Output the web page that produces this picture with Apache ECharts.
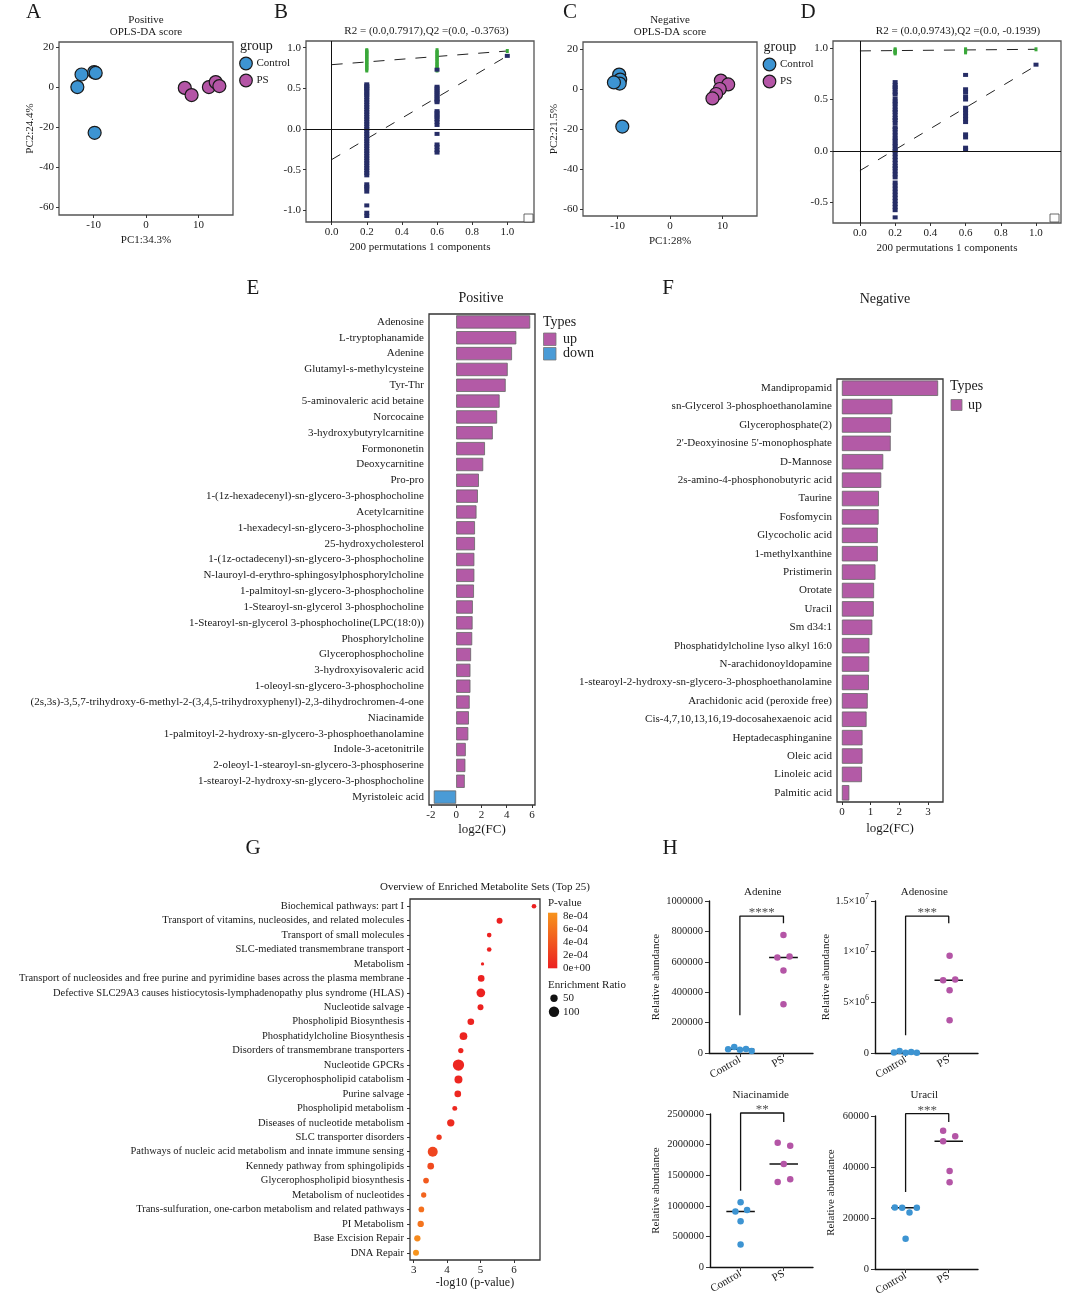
<!DOCTYPE html>
<html><head><meta charset="utf-8">
<script src="https://cdn.jsdelivr.net/npm/echarts@6.0.0/dist/echarts.min.js"></script>
<style>html,body{margin:0;padding:0;background:#fff}#c{width:1065px;height:1298px}</style>
</head><body><div id="c"></div>
<script>
// ---------------- DATA ----------------
// A: Positive OPLS-DA score
const A_control = [[-12.3,6.5],[-9.9,7.7],[-9.6,7.3],[-13.1,0.2],[-9.8,-22.7]];
const A_ps = [[7.4,-0.2],[8.7,-3.8],[12.0,0.2],[13.3,2.7],[14.0,0.7]];
// C: Negative OPLS-DA score
const C_control = [[-9.7,7.2],[-9.5,4.7],[-9.6,2.7],[-10.7,3.3],[-9.1,-18.8]];
const C_ps = [[9.7,4.2],[11.1,2.3],[9.5,0.0],[8.8,-2.5],[8.1,-4.7]];
// B / D permutation tests
const perm_x = [0.2, 0.6, 1.0];
const B_R2 = [
  [0.72,0.735,0.75,0.76,0.78,0.79,0.805,0.82,0.83,0.845,0.86,0.87,0.885,0.90,0.91,0.925,0.94,0.95,0.96,0.97],
  [0.72,0.74,0.755,0.77,0.79,0.8,0.82,0.84,0.855,0.87,0.89,0.9,0.92,0.94,0.95,0.97],
  [0.96]];
const B_Q2 = [
  [0.55,0.53,0.51,0.49,0.47,0.44,0.42,0.39,0.36,0.33,0.30,0.27,0.24,0.21,0.18,0.15,0.12,0.09,0.06,0.03,0.0,-0.03,-0.06,-0.09,-0.12,-0.15,-0.18,-0.21,-0.24,-0.27,-0.30,-0.33,-0.36,-0.39,-0.42,-0.45,-0.48,-0.51,-0.54,-0.57,-0.68,-0.71,-0.73,-0.77,-0.94,-1.03,-1.07],
  [0.73,0.52,0.5,0.47,0.45,0.42,0.4,0.37,0.35,0.33,0.22,0.2,0.17,0.15,0.12,0.09,0.05,-0.06,-0.19,-0.22,-0.26,-0.29],
  [0.90]];
const B_R2_line = [0.7917, 0.96];
const B_Q2_line = [-0.3763, 0.90];
const D_R2 = [[0.95,0.96,0.965,0.97,0.98,0.99],[0.96,0.97,0.98,0.99],[0.99]];
const D_Q2 = [
  [0.67,0.64,0.62,0.6,0.57,0.55,0.51,0.48,0.46,0.43,0.4,0.38,0.35,0.32,0.3,0.27,0.23,0.21,0.18,0.15,0.12,0.1,0.07,0.05,0.02,0,-0.03,-0.06,-0.09,-0.12,-0.15,-0.17,-0.2,-0.23,-0.26,-0.31,-0.34,-0.37,-0.4,-0.43,-0.46,-0.49,-0.52,-0.55,-0.58,-0.65],
  [0.74,0.6,0.57,0.53,0.5,0.42,0.4,0.37,0.34,0.31,0.28,0.16,0.13,0.03,0.01],
  [0.84]];
const D_R2_line = [0.9743, 0.99];
const D_Q2_line = [-0.1939, 0.83];
// E: Positive log2FC
const E_names = ['Adenosine','L-tryptophanamide','Adenine','Glutamyl-s-methylcysteine','Tyr-Thr','5-aminovaleric acid betaine','Norcocaine','3-hydroxybutyrylcarnitine','Formononetin','Deoxycarnitine','Pro-pro','1-(1z-hexadecenyl)-sn-glycero-3-phosphocholine','Acetylcarnitine','1-hexadecyl-sn-glycero-3-phosphocholine','25-hydroxycholesterol','1-(1z-octadecenyl)-sn-glycero-3-phosphocholine','N-lauroyl-d-erythro-sphingosylphosphorylcholine','1-palmitoyl-sn-glycero-3-phosphocholine','1-Stearoyl-sn-glycerol 3-phosphocholine','1-Stearoyl-sn-glycerol 3-phosphocholine(LPC(18:0))','Phosphorylcholine','Glycerophosphocholine','3-hydroxyisovaleric acid','1-oleoyl-sn-glycero-3-phosphocholine','(2s,3s)-3,5,7-trihydroxy-6-methyl-2-(3,4,5-trihydroxyphenyl)-2,3-dihydrochromen-4-one','Niacinamide','1-palmitoyl-2-hydroxy-sn-glycero-3-phosphoethanolamine','Indole-3-acetonitrile','2-oleoyl-1-stearoyl-sn-glycero-3-phosphoserine','1-stearoyl-2-hydroxy-sn-glycero-3-phosphocholine','Myristoleic acid'];
const E_values = [5.86,4.76,4.42,4.08,3.92,3.44,3.24,2.90,2.28,2.14,1.80,1.72,1.61,1.49,1.49,1.44,1.44,1.41,1.32,1.30,1.27,1.18,1.13,1.13,1.07,1.01,0.96,0.76,0.73,0.68,-1.77];
// F: Negative log2FC
const F_names = ['Mandipropamid','sn-Glycerol 3-phosphoethanolamine','Glycerophosphate(2)',"2'-Deoxyinosine 5'-monophosphate",'D-Mannose','2s-amino-4-phosphonobutyric acid','Taurine','Fosfomycin','Glycocholic acid','1-methylxanthine','Pristimerin','Orotate','Uracil','Sm d34:1','Phosphatidylcholine lyso alkyl 16:0','N-arachidonoyldopamine','1-stearoyl-2-hydroxy-sn-glycero-3-phosphoethanolamine','Arachidonic acid (peroxide free)','Cis-4,7,10,13,16,19-docosahexaenoic acid','Heptadecasphinganine','Oleic acid','Linoleic acid','Palmitic acid'];
const F_values = [3.35,1.76,1.71,1.70,1.44,1.37,1.29,1.28,1.25,1.25,1.17,1.12,1.11,1.06,0.96,0.95,0.94,0.90,0.86,0.72,0.72,0.70,0.26];
// G: enrichment
const G_names = ['Biochemical pathways: part I','Transport of vitamins, nucleosides, and related molecules','Transport of small molecules','SLC-mediated transmembrane transport','Metabolism','Transport of nucleosides and free purine and pyrimidine bases across the plasma membrane','Defective SLC29A3 causes histiocytosis-lymphadenopathy plus syndrome (HLAS)','Nucleotide salvage','Phospholipid Biosynthesis','Phosphatidylcholine Biosynthesis','Disorders of transmembrane transporters','Nucleotide GPCRs','Glycerophospholipid catabolism','Purine salvage','Phospholipid metabolism','Diseases of nucleotide metabolism','SLC transporter disorders','Pathways of nucleic acid metabolism and innate immune sensing','Kennedy pathway from sphingolipids','Glycerophospholipid biosynthesis','Metabolism of nucleotides','Trans-sulfuration, one-carbon metabolism and related pathways','PI Metabolism','Base Excision Repair','DNA Repair'];
const G_logp = [6.60,5.57,5.26,5.26,5.06,5.02,5.01,5.00,4.71,4.49,4.41,4.34,4.34,4.32,4.23,4.11,3.76,3.57,3.51,3.37,3.30,3.23,3.21,3.11,3.07];
const G_ratio = [20,33,20,20,10,41,70,33,41,55,26,118,59,41,23,50,26,92,41,30,26,30,37,37,33];
// H: relative abundance (values + horizontal jitter)
const H_adenine_ctrl = [24000,40000,22000,26000,13000], H_adenine_ctrl_j = [-0.27,-0.13,0,0.14,0.27];
const H_adenine_ps = [776000,629000,635000,543000,321000], H_adenine_ps_j = [0,-0.14,0.14,0,0];
const H_adenosine_ctrl = [60000,200000,30000,110000,20000], H_adenosine_ctrl_j = [-0.27,-0.14,0,0.13,0.26];
const H_adenosine_ps = [9590000,7190000,7250000,6200000,3230000], H_adenosine_ps_j = [0.02,-0.13,0.15,0.02,0.02];
const H_niac_ctrl = [1056000,908000,930000,749000,366000], H_niac_ctrl_j = [0,-0.12,0.15,0,0];
const H_niac_ps = [2030000,1980000,1685000,1390000,1433000], H_niac_ps_j = [-0.14,0.15,0,-0.14,0.15];
const H_uracil_ctrl = [24100,24000,24050,22200,11900], H_uracil_ctrl_j = [-0.25,-0.08,0.26,0.09,0];
const H_uracil_ps = [54250,52030,50070,38430,33990], H_uracil_ps_j = [-0.13,0.15,-0.13,0.02,0.02];
const H_brackets = {adenine:[248000,901000,853000], adenosine:[1750000,13500000,12800000], niac:[1247000,2516000,2370000], uracil:[30200,60900,57650]};
const H_stars = {adenine:'****', adenosine:'***', niac:'**', uracil:'***'};
const H_groups = ['Control','PS'];

// ---------------- STYLE ----------------
const FONT = '"Liberation Serif", "Times New Roman", serif';
const TXT = '#1a1a1a';
const BLUE = '#3d94d2', PURPLE = '#b455a6';
const BAR_UP = '#b35aa6', BAR_DOWN = '#4a9bd6';
const NAVY = '#262d66', GREEN = '#3aa83a';
const RED = '#ec2020', ORANGE = '#f7941d';

const grids = [
  {left:59, top:42, width:174, height:173},      //0 A
  {left:306, top:41, width:228, height:181},     //1 B
  {left:583, top:42, width:174, height:174},     //2 C
  {left:833, top:41, width:228, height:182},     //3 D
  {left:429, top:314, width:106, height:491},    //4 E
  {left:837, top:379, width:106, height:423},    //5 F
  {left:410, top:899, width:130, height:361},    //6 G
  {left:709, top:901, width:104, height:152},    //7 H1
  {left:875, top:901, width:103, height:152},    //8 H2
  {left:710, top:1114, width:103, height:153},   //9 H3
  {left:875, top:1116, width:103, height:153}    //10 H4
].map((g,i)=>Object.assign({show: i<=6, borderColor: i<=3 ? '#555' : '#333', borderWidth:1.3, backgroundColor:'transparent', containLabel:false, outerBoundsMode:'none'}, g));

function vAxis(gi, min, max, ticks, o) {
  o = o || {};
  return {
    gridIndex: gi, type:'value', min, max,
    axisLine: Object.assign({show:false, onZero:false}, o.axisLine||{}),
    axisTick: {show:true, customValues:ticks, length:o.tickLen||3, lineStyle:{color:'#333', width:1}},
    axisLabel: Object.assign({customValues:ticks, fontSize:11, color:TXT, margin:5, fontFamily:FONT}, o.label||{}),
    splitLine: {show:false},
    name: o.name || '', nameLocation:'middle', nameGap: o.nameGap || 20,
    nameTextStyle: {fontSize: o.nameSize || 11, color:TXT, fontFamily:FONT}
  };
}
function cAxis(gi, names, o) {
  o = o || {};
  return {
    gridIndex: gi, type:'category', data:names, inverse:true,
    axisLine:{show:false, onZero:false},
    axisTick:{show: !!o.ticks, length:3, alignWithLabel:true, lineStyle:{color:'#333'}},
    axisLabel:{interval:0, fontSize:o.fontSize||11, color:TXT, margin:o.margin||5, fontFamily:FONT},
    splitLine:{show:false}
  };
}
const f1 = v => v.toFixed(1);
const xAxes = [], yAxes = [];
// A
xAxes.push(vAxis(0,-16.6,16.6,[-10,0,10],{name:'PC1:34.3%', nameGap:20}));
yAxes.push(vAxis(0,-63.9,22.8,[-60,-40,-20,0,20],{name:'PC2:24.4%', nameGap:18}));
// B
xAxes.push(vAxis(1,-0.146,1.152,[0,0.2,0.4,0.6,0.8,1.0],{name:'200 permutations 1 components', nameGap:20, label:{formatter:f1}}));
yAxes.push(vAxis(1,-1.144,1.083,[-1,-0.5,0,0.5,1],{label:{formatter:f1}}));
// C
xAxes.push(vAxis(2,-16.6,16.6,[-10,0,10],{name:'PC1:28%', nameGap:20}));
yAxes.push(vAxis(2,-63.5,23.5,[-60,-40,-20,0,20],{name:'PC2:21.5%', nameGap:18}));
// D
xAxes.push(vAxis(3,-0.153,1.142,[0,0.2,0.4,0.6,0.8,1.0],{name:'200 permutations 1 components', nameGap:20, label:{formatter:f1}}));
yAxes.push(vAxis(3,-0.705,1.071,[-0.5,0,0.5,1],{label:{formatter:f1}}));
// E
xAxes.push(vAxis(4,-2.15,6.24,[-2,0,2,4,6],{name:'log2(FC)', nameGap:18, nameSize:13}));
yAxes.push(cAxis(4,E_names));
// F
xAxes.push(vAxis(5,-0.17,3.52,[0,1,2,3],{name:'log2(FC)', nameGap:20, nameSize:13}));
yAxes.push(cAxis(5,F_names));
// G
xAxes.push(vAxis(6,2.89,6.78,[3,4,5,6],{name:'-log10 (p-value)', nameGap:17, nameSize:12}));
yAxes.push(cAxis(6,G_names,{ticks:true, fontSize:10.5, margin:6}));
// H
const hAxisLine = {show:true, onZero:false, lineStyle:{color:'#111', width:1.4}};
const hY = [
  {gi:7, max:1000000, ticks:[0,200000,400000,600000,800000,1000000], gap:47},
  {gi:8, max:15000000, ticks:[0,5000000,10000000,15000000], gap:38, sci:true},
  {gi:9, max:2500000, ticks:[0,500000,1000000,1500000,2000000,2500000], gap:48},
  {gi:10, max:60000, ticks:[0,20000,40000,60000], gap:38}
];
hY.forEach(h => {
  xAxes.push(vAxis(h.gi,0.291,2.678,[1,2],{axisLine:hAxisLine, tickLen:4,
    label:{formatter:v=>H_groups[Math.round(v)-1], rotate:30, margin:6, fontSize:11}}));
  const lab = {margin:6, fontSize:10.5, formatter: v => String(Math.round(v))};
  if (h.sci) {
    lab.formatter = v => { if (v===0) return '0'; const e = Math.floor(Math.log10(v)+1e-9); const m = +(v/Math.pow(10,e)).toFixed(2); return m + '×10{s|' + e + '}'; };
    lab.rich = {s:{fontSize:8, fontFamily:FONT, color:TXT, verticalAlign:'top', padding:[0,0,8,0]}};
  }
  yAxes.push(vAxis(h.gi,0,h.max,h.ticks,{axisLine:hAxisLine, tickLen:4, label:lab, name:'Relative abundance', nameGap:h.gap}));
});

// ---------------- SERIES ----------------
const series = [];
function scoreSeries(gi, ctrl, ps) {
  [[ctrl,BLUE,'Control'],[ps,PURPLE,'PS']].forEach(([d,c,n]) => series.push({
    type:'scatter', name:n, xAxisIndex:gi, yAxisIndex:gi, data:d, symbolSize:13,
    itemStyle:{color:c, borderColor:'#1a1a1a', borderWidth:1.2, opacity:1}, z:3
  }));
}
scoreSeries(0, A_control, A_ps);
scoreSeries(2, C_control, C_ps);

function permSeries(gi, r2, q2, r2line, q2line) {
  series.push({type:'line', xAxisIndex:gi, yAxisIndex:gi, data:[[0,r2line[0]],[1,r2line[1]]], symbol:'none',
    lineStyle:{color:'#222', width:1, type:[11,10]}, z:2,
    markLine:{silent:true, symbol:'none', label:{show:false}, lineStyle:{color:'#111', width:1, type:'solid'}, data:[{xAxis:0},{yAxis:0}]}});
  series.push({type:'line', xAxisIndex:gi, yAxisIndex:gi, data:[[0,q2line[0]],[1,q2line[1]]], symbol:'none',
    lineStyle:{color:'#222', width:1, type:[10,11]}, z:2});
  const g = [], n = [];
  perm_x.forEach((x,i) => { r2[i].forEach(v => g.push([x,v])); q2[i].forEach(v => n.push([x,v])); });
  series.push({type:'scatter', xAxisIndex:gi, yAxisIndex:gi, data:g, symbol:'rect', symbolSize:[3,4], itemStyle:{color:GREEN, opacity:1}, z:3});
  series.push({type:'scatter', xAxisIndex:gi, yAxisIndex:gi, data:n, symbol:'rect', symbolSize:[5,4], itemStyle:{color:NAVY, opacity:1}, z:3});
}
permSeries(1, B_R2, B_Q2, B_R2_line, B_Q2_line);
permSeries(3, D_R2, D_Q2, D_R2_line, D_Q2_line);

function barSeries(gi, vals) {
  series.push({type:'bar', xAxisIndex:gi, yAxisIndex:gi, barCategoryGap:'16%',
    data: vals.map(v => ({value:v, itemStyle:{color: v>=0 ? BAR_UP : BAR_DOWN}})),
    itemStyle:{borderColor:'#666', borderWidth:0.8}, z:2});
}
barSeries(4, E_values);
barSeries(5, F_values);

const G_p = G_logp.map(v => Math.pow(10,-v));
const G_pmax = Math.max.apply(null, G_p);
const gIndex = series.length;
series.push({type:'scatter', xAxisIndex:6, yAxisIndex:6,
  data: G_logp.map((v,i) => [v, G_names[i], G_ratio[i], G_p[i]]),
  symbolSize: d => 1.04*Math.sqrt(d[2]), itemStyle:{opacity:1}, z:3});

function median(a){ const s=a.slice().sort((x,y)=>x-y); return s[Math.floor(s.length/2)]; }
function hSeries(gi, c, cj, p, pj, br, stars) {
  [[c,cj,1,BLUE],[p,pj,2,PURPLE]].forEach(([vals,jit,g,col]) => {
    const m = median(vals);
    series.push({type:'line', xAxisIndex:gi, yAxisIndex:gi, data:[[g-0.33,m],[g+0.33,m]], symbol:'none', clip:false, lineStyle:{color:'#111', width:1.5}, z:2});
    series.push({type:'scatter', xAxisIndex:gi, yAxisIndex:gi, data:vals.map((v,i)=>[g+jit[i], v]), symbolSize:6.5, clip:false, itemStyle:{color:col, opacity:1}, z:3});
  });
  series.push({type:'line', xAxisIndex:gi, yAxisIndex:gi, data:[[1,br[0]],[1,br[1]],[2,br[1]],[2,br[2]]], symbol:'none', clip:false, lineStyle:{color:'#111', width:1.3}, z:2});
  series.push({type:'scatter', xAxisIndex:gi, yAxisIndex:gi, data:[[1.5,br[1]]], symbolSize:0, clip:false,
    label:{show:true, position:'top', distance:-3, formatter:stars, fontSize:13, color:TXT, fontFamily:FONT}, z:4});
}
hSeries(7, H_adenine_ctrl, H_adenine_ctrl_j, H_adenine_ps, H_adenine_ps_j, H_brackets.adenine, H_stars.adenine);
hSeries(8, H_adenosine_ctrl, H_adenosine_ctrl_j, H_adenosine_ps, H_adenosine_ps_j, H_brackets.adenosine, H_stars.adenosine);
hSeries(9, H_niac_ctrl, H_niac_ctrl_j, H_niac_ps, H_niac_ps_j, H_brackets.niac, H_stars.niac);
hSeries(10, H_uracil_ctrl, H_uracil_ctrl_j, H_uracil_ps, H_uracil_ps_j, H_brackets.uracil, H_stars.uracil);

// ---------------- GRAPHIC (titles, legends) ----------------
function T(x, y, text, size, align, extra) {
  return Object.assign({type:'text', x, y, silent:true, style:{text, font: size+'px '+FONT, fill:TXT, textAlign: align||'center', textVerticalAlign:'middle'}}, extra||{});
}
const gr = [];
[['A',33.5,12],['B',281,12],['C',570,12],['D',808,12],['E',253,288],['F',668,288],['G',253,848],['H',670,848]]
  .forEach(([t,x,y]) => gr.push(T(x,y,t,21)));
gr.push(T(146,20.5,'Positive',11), T(146,32.5,'OPLS-DA score',11));
gr.push(T(670,20.5,'Negative',11), T(670,32.5,'OPLS-DA score',11));
gr.push(T(426.5,31,'R2 = (0.0,0.7917),Q2 =(0.0, -0.3763)',11));
gr.push(T(958,31,'R2 = (0.0,0.9743),Q2 =(0.0, -0.1939)',11));
function groupLegend(x, y) {
  gr.push(T(x-6, y, 'group', 14, 'left'));
  [[BLUE,'Control',17],[PURPLE,'PS',34]].forEach(([c,t,dy]) => {
    gr.push({type:'circle', shape:{cx:x, cy:y+dy, r:6.3}, style:{fill:c, stroke:'#1a1a1a', lineWidth:1.2}, silent:true});
    gr.push(T(x+10.5, y+dy, t, 11, 'left'));
  });
}
groupLegend(246, 46.5);
groupLegend(769.5, 47.5);
// permutation legend boxes
[[524,214],[1050,214]].forEach(([x,y]) => gr.push({type:'rect', shape:{x, y, width:9, height:8}, style:{fill:'#fff', stroke:'#444', lineWidth:0.8}, silent:true}));
// E / F titles & legends
gr.push(T(481,298,'Positive',14), T(885,299,'Negative',14));
gr.push(T(543,322.7,'Types',14,'left'));
gr.push({type:'rect', shape:{x:543.5, y:333, width:12.5, height:12.5}, style:{fill:BAR_UP, stroke:'#777', lineWidth:0.8}, silent:true});
gr.push({type:'rect', shape:{x:543.5, y:347.5, width:12.5, height:12.5}, style:{fill:BAR_DOWN, stroke:'#777', lineWidth:0.8}, silent:true});
gr.push(T(563,339.3,'up',14,'left'), T(563,353.7,'down',14,'left'));
gr.push(T(950,386.7,'Types',14,'left'));
gr.push({type:'rect', shape:{x:951, y:399.5, width:11, height:11}, style:{fill:BAR_UP, stroke:'#777', lineWidth:0.8}, silent:true});
gr.push(T(968,405.5,'up',14,'left'));
// G title & legend
gr.push(T(485,886.7,'Overview of Enriched Metabolite Sets (Top 25)',11));
gr.push(T(548,902.7,'P-value',11,'left'));
const cbTop = 912.7, cbH = 55.6, cbBottom = cbTop + cbH;
gr.push({type:'rect', shape:{x:548, y:cbTop, width:9.3, height:cbH}, silent:true,
  style:{fill:{type:'linear', x:0, y:0, x2:0, y2:1, colorStops:[{offset:0,color:ORANGE},{offset:1,color:RED}]}}});
[[8e-4,'8e-04'],[6e-4,'6e-04'],[4e-4,'4e-04'],[2e-4,'2e-04'],[0,'0e+00']].forEach(([v,t]) =>
  gr.push(T(563, cbBottom - v/G_pmax*cbH, t, 11, 'left')));
gr.push(T(548,985,'Enrichment Ratio',11,'left'));
[[50,998.3],[100,1011.7]].forEach(([v,y]) => {
  gr.push({type:'circle', shape:{cx:554, cy:y, r:1.04*Math.sqrt(v)/2}, style:{fill:'#111'}, silent:true});
  gr.push(T(563, y, String(v), 11, 'left'));
});
// H titles
gr.push(T(762.7,891.7,'Adenine',11), T(924.3,891.7,'Adenosine',11), T(760.7,1095,'Niacinamide',11), T(924.3,1095,'Uracil',11));

const option = {
  animation:false,
  backgroundColor:'#fff',
  textStyle:{fontFamily:FONT, color:TXT},
  grid: grids, xAxis: xAxes, yAxis: yAxes, series: series,
  visualMap: [{show:false, type:'continuous', seriesIndex:gIndex, dimension:3, min:0, max:G_pmax, inRange:{color:[RED, ORANGE]}}],
  graphic: gr
};
const chart = echarts.init(document.getElementById('c'), null, {width:1065, height:1298});
chart.setOption(option);
</script>
</body></html>
